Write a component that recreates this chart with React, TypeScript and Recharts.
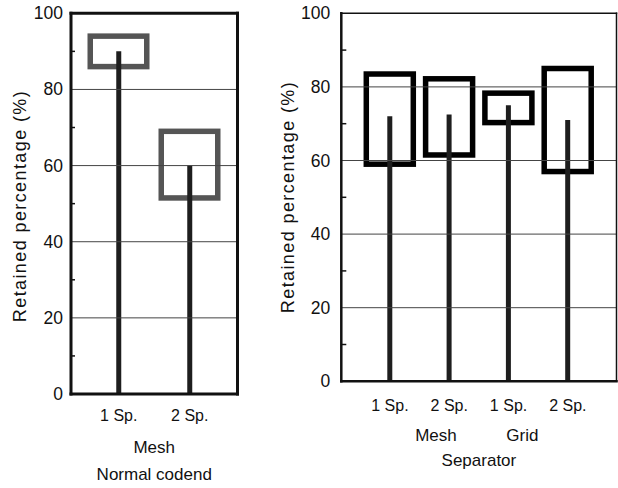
import React from 'react';
import { ComposedChart, Bar, XAxis, YAxis, ReferenceLine, Label } from 'recharts';

const FONT = '"Liberation Sans", Arial, Helvetica, sans-serif';
const INK = '#111111';

// ---- data ----
const leftCategories = ['1 Sp.', '2 Sp.'];
const leftStem = [90, 60];
const leftBoxLow = [86, 51.5];
const leftBoxHigh = [94, 69];

const rightCategories = ['1 Sp.', '2 Sp.', '1 Sp.', '2 Sp.'];
const rightStem = [72, 72.5, 75, 71];
const rightBoxLow = [59, 61.5, 70.3, 57];
const rightBoxHigh = [83.5, 82.2, 78.3, 85];

const yTicks = [0, 10, 20, 30, 40, 50, 60, 70, 80, 90, 100];
const gridValues = [20, 40, 60, 80];
const yLabel = 'Retained percentage (%)';

const leftGroups = [{ text: 'Mesh', frac: 0.5, row: 1 }, { text: 'Normal codend', frac: 0.5, row: 2 }];
const rightGroups = [
  { text: 'Mesh', frac: 0.344, row: 1 },
  { text: 'Grid', frac: 0.658, row: 1 },
  { text: 'Separator', frac: 0.5, row: 2 },
];

const buildRows = (cats: string[], stem: number[], lo: number[], hi: number[]) =>
  cats.map((c, i) => ({ id: i, cat: c, stem: stem[i], box: [lo[i], hi[i]] }));

const leftData = buildRows(leftCategories, leftStem, leftBoxLow, leftBoxHigh);
const rightData = buildRows(rightCategories, rightStem, rightBoxLow, rightBoxHigh);

const makeYTick = (gap: number, len: number) => (props: any) => {
  const { x, y, payload } = props;
  const v = payload.value;
  if (v % 20 !== 0) {
    return <line x1={x} x2={x + len} y1={y} y2={y} stroke={INK} strokeWidth={1.5} />;
  }
  return (
    <text x={x - gap} y={y} textAnchor="end" dominantBaseline="central" fontSize={17.5} fill={INK} fontFamily={FONT}>
      {v}
    </text>
  );
};

const makeXTick = (cats: string[], dy: number) => (props: any) => {
  const { x, y, payload } = props;
  return (
    <text x={x} y={y + dy} textAnchor="middle" dominantBaseline="central" fontSize={16} fill={INK} fontFamily={FONT}>
      {cats[payload.value]}
    </text>
  );
};

const makeXLabel = (groups: { text: string; frac: number; row: number }[], rowY: number[]) => (props: any) => {
  const vb = props.viewBox || {};
  return (
    <g>
      {groups.map((g, i) => (
        <text
          key={i}
          x={vb.x + vb.width * g.frac}
          y={vb.y + rowY[g.row - 1]}
          textAnchor="middle"
          dominantBaseline="central"
          fontSize={17}
          fill={INK}
          fontFamily={FONT}
        >
          {g.text}
        </text>
      ))}
    </g>
  );
};

const makeYLabel = (cx: number, cy: number) => (props: any) => {
  const vb = props.viewBox || {};
  const x = (vb.x || 0) + cx;
  const y = cy;
  return (
    <text
      x={x}
      y={y}
      transform={`rotate(-90 ${x} ${y})`}
      textAnchor="middle"
      dominantBaseline="central"
      fontSize={18}
      letterSpacing={1.4}
      fill={INK}
      fontFamily={FONT}
    >
      {yLabel}
    </text>
  );
};

const makeBox = (stroke: string, sw: number) => (props: any) => {
  const { x, y, width, height } = props;
  if (x == null || y == null) return null;
  return <rect x={x} y={y} width={width} height={height} fill="none" stroke={stroke} strokeWidth={sw} />;
};

type PanelProps = {
  data: any[];
  cats: string[];
  groups: { text: string; frac: number; row: number }[];
  rowY: number[];
  width: number;
  marginRight: number;
  yAxisWidth: number;
  xAxisHeight: number;
  pad: number;
  tickDy: number;
  tickGap: number;
  minorLen: number;
  labelX: number;
  labelY: number;
  boxColor: string;
  boxSize: number;
  mainLine: number;
  sideLine: number;
};

function Panel(p: PanelProps) {
  const main = { stroke: INK, strokeWidth: p.mainLine, strokeLinecap: 'square' as const };
  const side = { stroke: INK, strokeWidth: p.sideLine, strokeLinecap: 'square' as const };
  return (
    <ComposedChart width={p.width} height={488} data={p.data} margin={{ top: 13.3, right: p.marginRight, bottom: 0, left: 0 }}>
      <XAxis
        xAxisId="stem"
        dataKey="id"
        type="category"
        height={p.xAxisHeight}
        padding={{ left: p.pad, right: p.pad }}
        axisLine={main}
        tickLine={false}
        tickSize={0}
        tickMargin={0}
        interval={0}
        tick={makeXTick(p.cats, p.tickDy)}
      >
        <Label content={makeXLabel(p.groups, p.rowY)} />
      </XAxis>
      <XAxis
        xAxisId="box"
        dataKey="id"
        type="category"
        hide
        height={0}
        padding={{ left: p.pad, right: p.pad }}
      />
      <YAxis
        type="number"
        domain={[0, 100]}
        ticks={yTicks}
        interval={0}
        width={p.yAxisWidth}
        axisLine={main}
        tickLine={false}
        tickSize={0}
        tickMargin={0}
        tick={makeYTick(p.tickGap, p.minorLen)}
      >
        <Label content={makeYLabel(p.labelX, p.labelY)} />
      </YAxis>
      <YAxis
        yAxisId="right"
        orientation="right"
        type="number"
        domain={[0, 100]}
        width={1}
        axisLine={side}
        tick={false}
        tickLine={false}
      />
      {gridValues.map((v) => (
        <ReferenceLine key={v} xAxisId="stem" y={v} stroke="#444" strokeWidth={1} />
      ))}
      <Bar xAxisId="box" dataKey="box" barSize={p.boxSize} isAnimationActive={false} shape={makeBox(p.boxColor, 5.5)} />
      <Bar xAxisId="stem" dataKey="stem" barSize={5} fill="#1e1e1e" isAnimationActive={false} />
      <ReferenceLine xAxisId="stem" y={100} stroke={INK} strokeWidth={p.sideLine} strokeLinecap="square" />
    </ComposedChart>
  );
}

export default function App() {
  return (
    <div style={{ position: 'absolute', left: 0, top: 0, width: 618, height: 488, background: '#fff' }}>
      <div style={{ position: 'absolute', left: 0, top: 0 }}>
        <Panel
          data={leftData}
          cats={leftCategories}
          groups={leftGroups}
          rowY={[53, 80]}
          width={260}
          marginRight={21.5}
          yAxisWidth={71}
          xAxisHeight={94}
          pad={12.25}
          tickDy={21}
          tickGap={8}
          minorLen={4}
          labelX={20}
          labelY={206}
          boxColor="#555555"
          boxSize={56.5}
          mainLine={3}
          sideLine={3}
        />
      </div>
      <div style={{ position: 'absolute', left: 260, top: 0 }}>
        <Panel
          data={rightData}
          cats={rightCategories}
          groups={rightGroups}
          rowY={[54, 79]}
          width={358}
          marginRight={0.5}
          yAxisWidth={81.3}
          xAxisHeight={106.7}
          pad={19}
          tickDy={24}
          tickGap={11}
          minorLen={5}
          labelX={28}
          labelY={197}
          boxColor="#000000"
          boxSize={47}
          mainLine={2.5}
          sideLine={1.5}
        />
      </div>
    </div>
  );
}
